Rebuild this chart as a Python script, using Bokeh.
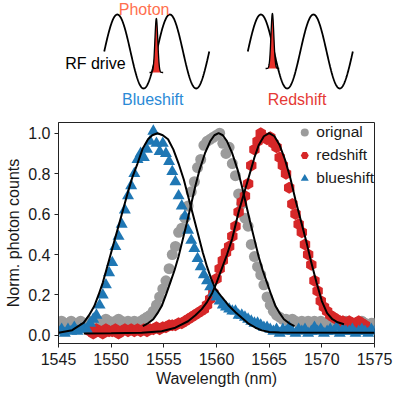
import numpy as np
from bokeh.plotting import figure
from bokeh.layouts import column
from bokeh.models import Range1d, Legend, LegendItem, FixedTicker, NumeralTickFormatter
from bokeh.embed import file_html
from bokeh.resources import INLINE
from bokeh.core.properties import value

# ---------------- data ----------------
WL = [1545.0, 1545.3, 1545.6, 1545.9, 1546.2, 1546.5, 1546.8, 1547.1, 1547.4, 1547.7,
      1548.0, 1548.3, 1548.6, 1548.9, 1549.2, 1549.5, 1549.8, 1550.1, 1550.4, 1550.7,
      1551.0, 1551.3, 1551.6, 1551.9, 1552.2, 1552.5, 1552.8, 1553.1, 1553.4, 1553.7,
      1554.0, 1554.3, 1554.6, 1554.9, 1555.2, 1555.5, 1555.8, 1556.1, 1556.4, 1556.7,
      1557.0, 1557.3, 1557.6, 1557.9, 1558.2, 1558.5, 1558.8, 1559.1, 1559.4, 1559.7,
      1560.0, 1560.3, 1560.6, 1560.9, 1561.2, 1561.5, 1561.8, 1562.1, 1562.4, 1562.7,
      1563.0, 1563.3, 1563.6, 1563.9, 1564.2, 1564.5, 1564.8, 1565.1, 1565.4, 1565.7,
      1566.0, 1566.3, 1566.6, 1566.9, 1567.2, 1567.5, 1567.8, 1568.1, 1568.4, 1568.7,
      1569.0, 1569.3, 1569.6, 1569.9, 1570.2, 1570.5, 1570.8, 1571.1, 1571.4, 1571.7,
      1572.0, 1572.3, 1572.6, 1572.9, 1573.2, 1573.5, 1573.8, 1574.1, 1574.4, 1574.7,
      1575.0]

ORIGINAL = [0.06, 0.07, 0.05, 0.06, 0.07, 0.06, 0.05, 0.07, 0.06, 0.06,
            0.07, 0.05, 0.06, 0.07, 0.06, 0.08, 0.07, 0.06, 0.07, 0.08,
            0.07, 0.06, 0.07, 0.06, 0.07, 0.06, 0.07, 0.08, 0.09, 0.10,
            0.12, 0.15, 0.19, 0.23, 0.27, 0.33, 0.40, 0.44, 0.51, 0.53,
            0.58, 0.64, 0.71, 0.76, 0.83, 0.87, 0.94, 0.96, 0.97, 0.98,
            0.99, 1.00, 0.95, 0.90, 0.93, 0.85, 0.79, 0.70, 0.65, 0.58,
            0.54, 0.45, 0.39, 0.34, 0.30, 0.25, 0.19, 0.15, 0.12, 0.10,
            0.09, 0.08, 0.08, 0.07, 0.08, 0.07, 0.06, 0.07, 0.06, 0.07,
            0.06, 0.07, 0.06, 0.07, 0.06, 0.05, 0.06, 0.07, 0.06, 0.05,
            0.06, 0.07, 0.06, 0.06, 0.05, 0.06, 0.07, 0.06, 0.05, 0.06,
            0.06]

BLUESHIFT = [0.02, 0.03, 0.01, 0.03, 0.02, 0.04, 0.02, 0.03, 0.04, 0.03,
             0.06, 0.08, 0.10, 0.15, 0.20, 0.25, 0.31, 0.36, 0.44, 0.49,
             0.55, 0.62, 0.69, 0.74, 0.80, 0.87, 0.90, 0.88, 0.92, 0.96,
             1.01, 0.95, 0.91, 0.95, 0.90, 0.86, 0.81, 0.76, 0.69, 0.64,
             0.59, 0.52, 0.47, 0.43, 0.38, 0.34, 0.30, 0.27, 0.24, 0.21,
             0.19, 0.17, 0.15, 0.14, 0.13, 0.12, 0.12, 0.10, 0.10, 0.09,
             0.08, 0.07, 0.06, 0.06, 0.05, 0.04, 0.04, 0.03, 0.02, 0.03,
             0.01, 0.03, 0.02, 0.04, 0.02, 0.01, 0.03, 0.02, 0.03, 0.01,
             0.02, 0.04, 0.02, 0.03, 0.01, 0.02, 0.03, 0.02, 0.04, 0.01,
             0.03, 0.02, 0.02, 0.03, 0.01, 0.02, 0.03, 0.02, 0.01, 0.03,
             0.02]

RED_FIRST_WL = 1548.0
REDSHIFT = [0.02, 0.01, 0.03, 0.02, 0.01, 0.03, 0.02, 0.02, 0.03, 0.01,
            0.02, 0.03, 0.02, 0.03, 0.02, 0.03, 0.02, 0.03, 0.02, 0.03,
            0.03, 0.04, 0.03, 0.04, 0.04, 0.05, 0.05, 0.05, 0.06, 0.06,
            0.07, 0.08, 0.09, 0.10, 0.11, 0.12, 0.13, 0.15, 0.18, 0.21,
            0.28, 0.33, 0.37, 0.41, 0.44, 0.49, 0.54, 0.61, 0.66, 0.69,
            0.75, 0.84, 0.92, 0.96, 1.00, 0.98, 0.97, 0.98, 0.95, 0.93,
            0.88, 0.84, 0.80, 0.73, 0.65, 0.60, 0.55, 0.51, 0.45, 0.40,
            0.35, 0.27, 0.22, 0.17, 0.14, 0.12, 0.10, 0.09, 0.08, 0.07,
            0.07, 0.06, 0.07, 0.06, 0.06, 0.07, 0.06, 0.05]

BLUE_FIT_X = [1545.0, 1546.3, 1547.4, 1547.9, 1548.4, 1548.8, 1549.2, 1549.6, 1550.0, 1550.4,
              1550.8, 1551.2, 1551.6, 1552.0, 1552.5, 1553.0, 1553.5, 1553.9, 1554.4, 1554.9,
              1555.4, 1555.9, 1556.4, 1556.9, 1557.3, 1557.8, 1558.3, 1558.7, 1559.1, 1559.5,
              1559.9, 1560.5, 1561.2, 1561.8, 1562.4, 1563.0, 1563.7, 1564.3, 1565.0, 1566.0,
              1575.0]
BLUE_FIT_Y = [0.013, 0.026, 0.063, 0.10, 0.145, 0.20, 0.26, 0.335, 0.41, 0.485,
              0.56, 0.635, 0.71, 0.78, 0.85, 0.925, 0.97, 0.99, 1.0, 0.99,
              0.97, 0.92, 0.85, 0.77, 0.69, 0.59, 0.49, 0.41, 0.34, 0.28,
              0.23, 0.19, 0.145, 0.115, 0.087, 0.06, 0.038, 0.025, 0.017, 0.014,
              0.013]

GREY_FIT_X = [1553.0, 1553.5, 1554.0, 1554.4, 1554.8, 1555.2, 1555.6, 1556.0, 1556.4, 1556.8,
              1557.2, 1557.6, 1558.0, 1558.4, 1558.9, 1559.4, 1559.8, 1560.2, 1560.6, 1561.0,
              1561.5, 1562.0, 1562.4, 1562.8, 1563.2, 1563.6, 1564.0, 1564.4, 1564.8, 1565.2,
              1565.6, 1566.0, 1566.4, 1566.9, 1567.4]
GREY_FIT_Y = [0.046, 0.06, 0.08, 0.11, 0.145, 0.20, 0.26, 0.32, 0.39, 0.475,
              0.56, 0.65, 0.74, 0.82, 0.90, 0.96, 0.99, 1.0, 0.99, 0.96,
              0.90, 0.82, 0.74, 0.65, 0.56, 0.475, 0.39, 0.32, 0.26, 0.20,
              0.145, 0.11, 0.08, 0.06, 0.046]

RED_FIT_X = [1547.4, 1550.0, 1552.9, 1554.8, 1556.1, 1557.3, 1558.0, 1558.6, 1559.1, 1559.6,
             1560.0, 1560.5, 1561.0, 1561.5, 1562.1, 1562.6, 1563.1, 1563.6, 1564.0, 1564.5,
             1565.0, 1565.5, 1566.0, 1566.5, 1567.0, 1567.5, 1568.0, 1568.5, 1569.0, 1569.5,
             1570.0, 1570.5, 1571.0, 1571.5, 1572.1]
RED_FIT_Y = [0.01, 0.011, 0.013, 0.021, 0.038, 0.07, 0.10, 0.13, 0.165, 0.21,
             0.26, 0.33, 0.40, 0.48, 0.61, 0.70, 0.79, 0.88, 0.94, 0.985,
             1.0, 0.985, 0.94, 0.87, 0.78, 0.67, 0.57, 0.47, 0.36, 0.26,
             0.17, 0.11, 0.08, 0.065, 0.055]

X_TICKS = [1545, 1550, 1555, 1560, 1565, 1570, 1575]
Y_TICKS = [0.0, 0.2, 0.4, 0.6, 0.8, 1.0]
LEGEND_LABELS = ["orignal", "redshift", "blueshift"]

# ---------------- style ----------------
FONT = "Liberation Sans"
C_GREY = "#9b9b9b"
C_RED = "#d62728"
C_BLUE = "#1f77b4"
INK = "#222222"

# ---------------- schematic (top) ----------------
top = figure(width=394, height=112, x_range=Range1d(0, 394), y_range=Range1d(112, 0),
             output_backend="svg", toolbar_location=None,
             x_axis_location=None, y_axis_location=None, min_border=0)
top.outline_line_color = None
top.grid.visible = False


def wave(x0, x1, yc, amp, n=300):
    xs = np.linspace(x0, x1, n)
    per = (x1 - x0) / 2.0
    return xs, yc - amp * np.sin(2 * np.pi * (xs - x0) / per)


def pulse(xc, base, h, half=8.5, sig=1.8, n=160):
    xs = np.linspace(xc - half, xc + half, n)
    return xs, base - h * np.exp(-0.5 * ((xs - xc) / sig) ** 2)


for (x0, x1) in [(57, 188), (236, 367)]:
    xs, ys = wave(x0, x1, 51, 37)
    top.line(xs, ys, line_color="black", line_width=1.8)

for (xc, base, h) in [(122, 72, 54), (266.7, 68, 55)]:
    xs, ys = pulse(xc, base, h)
    top.varea(x=xs, y1=np.full_like(xs, base), y2=ys, fill_color="#e8302a")
    top.line(xs, ys, line_color="black", line_width=1.3)

labels = [("Photon", 106.7, 8.5, "#ff6f4e"),
          ("RF drive", 46.0, 62.5, "black"),
          ("Blueshift", 117.5, 99.0, "#2a8ad6"),
          ("Redshift", 297.5, 99.0, "#e53935")]
for t, x, y, c in labels:
    top.text(x=[x], y=[y], text=[t], text_color=c, text_font=value(FONT),
             text_font_size="16px", text_align="center", text_baseline="middle")

# ---------------- main plot ----------------
p = figure(width=394, height=282, x_range=Range1d(1545, 1575), y_range=Range1d(-0.04, 1.053),
           output_backend="svg", toolbar_location=None,
           min_border_left=58, min_border_right=20, min_border_top=10, min_border_bottom=51)
p.grid.visible = False
p.outline_line_color = INK
p.outline_line_width = 1

i0 = WL.index(RED_FIRST_WL)
red_wl = WL[i0:i0 + len(REDSHIFT)]

r_grey = p.scatter(WL, ORIGINAL, marker="circle", size=11, fill_color=C_GREY, line_color=None)
r_red = p.scatter(red_wl, REDSHIFT, marker="hex", size=12, angle=np.pi / 6,
                  fill_color=C_RED, line_color=None)
r_blue = p.scatter(WL, BLUESHIFT, marker="triangle", size=12, fill_color=C_BLUE, line_color=None)

for fx, fy in [(BLUE_FIT_X, BLUE_FIT_Y), (GREY_FIT_X, GREY_FIT_Y), (RED_FIT_X, RED_FIT_Y)]:
    p.line(fx, fy, line_color="black", line_width=2)

for ax in (p.xaxis[0], p.yaxis[0]):
    ax.axis_line_color = INK
    ax.major_tick_line_color = INK
    ax.major_tick_out = 4
    ax.major_tick_in = 0
    ax.minor_tick_line_color = None
    ax.major_label_text_font = FONT
    ax.major_label_text_font_size = "16px"
    ax.major_label_text_color = "#1a1a1a"
    ax.axis_label_text_font = FONT
    ax.axis_label_text_font_size = "16px"
    ax.axis_label_text_font_style = "normal"
    ax.axis_label_text_color = "#1a1a1a"

p.xaxis.axis_label = "Wavelength (nm)"
p.yaxis.axis_label = "Norm. photon counts"
p.xaxis.ticker = FixedTicker(ticks=X_TICKS)
p.yaxis.ticker = FixedTicker(ticks=Y_TICKS)
p.yaxis.formatter = NumeralTickFormatter(format="0.0")
p.xaxis.major_label_standoff = 5
p.xaxis.axis_label_standoff = 2
p.yaxis.major_label_standoff = 4
p.yaxis.axis_label_standoff = 3

legend = Legend(items=[LegendItem(label=LEGEND_LABELS[0], renderers=[r_grey]),
                       LegendItem(label=LEGEND_LABELS[1], renderers=[r_red]),
                       LegendItem(label=LEGEND_LABELS[2], renderers=[r_blue])],
                location="top_right")
legend.border_line_color = None
legend.background_fill_alpha = 0
legend.label_text_font = FONT
legend.label_text_font_size = "15.5px"
legend.label_text_color = "#1a1a1a"
legend.glyph_width = 20
legend.glyph_height = 20
legend.label_height = 20
legend.spacing = 3
legend.padding = 1
legend.margin = 0
legend.label_standoff = 2
p.add_layout(legend)

layout = column(top, p, spacing=0)
open("out.html", "w").write(file_html(layout, INLINE))
